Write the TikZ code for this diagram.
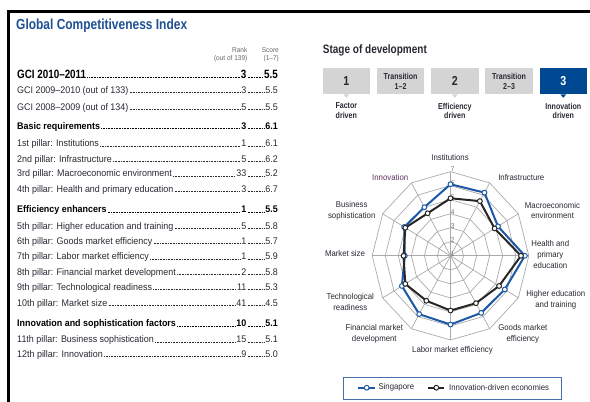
\documentclass[tikz,border=0pt]{standalone}
\usepackage{fontspec}
\setmainfont[FakeStretch=0.93]{Liberation Sans}
\newfontfamily\narrowfont[FakeStretch=0.82]{Liberation Sans}
\usetikzlibrary{positioning}

\definecolor{titleblue}{RGB}{31,80,148}
\definecolor{stageblue}{RGB}{0,72,145}
\definecolor{boxgray}{RGB}{212,212,212}
\definecolor{rowgray}{RGB}{40,40,50}
\definecolor{gridgray}{RGB}{170,170,170}
\definecolor{sgblue}{RGB}{28,88,165}
\definecolor{legendblue}{RGB}{70,110,170}
\definecolor{innopurple}{RGB}{95,50,95}

\tikzset{
  rowtxt/.style={font=\fontsize{9.6}{11}\selectfont, text=rowgray, inner sep=1pt},
  rowbold/.style={font=\fontsize{9.6}{11}\selectfont\bfseries, text=black, inner sep=1pt},
  rowbig/.style={font=\narrowfont\fontsize{12}{14}\selectfont\bfseries, text=black, inner sep=1pt},
  leader/.style={rowgray, line width=0.75pt, dash pattern=on 0.55pt off 1.05pt},
  boldleader/.style={black, line width=0.9pt, dash pattern=on 0.6pt off 1.0pt},
  headtxt/.style={font=\fontsize{7}{8}\selectfont, text=black!60, align=right, anchor=east, inner sep=0pt},
  stagebox/.style={fill=boxgray, minimum width=47.5pt, minimum height=25.7pt, inner sep=0pt, align=center, text=rowgray},
  stagelbl/.style={font=\narrowfont\fontsize{8.6}{9.3}\selectfont\bfseries, text=rowgray, align=center, inner sep=0pt},
  radarlbl/.style={font=\fontsize{8.4}{10.8}\selectfont, text=rowgray, align=center, inner sep=0pt},
  radargrid/.style={draw=gridgray, line width=0.7pt},
  ticklbl/.style={font=\fontsize{7}{7}\selectfont, text=black!55, inner sep=0pt},
  sgline/.style={draw=sgblue, line width=2pt, line join=round},
  idline/.style={draw=black!85, line width=2pt, line join=round},
  sgdot/.style={circle, draw=sgblue, fill=white, line width=1pt, minimum size=4.8pt, inner sep=0pt},
  iddot/.style={circle, draw=black!85, fill=white, line width=1pt, minimum size=4.8pt, inner sep=0pt},
}

\begin{document}
\begin{tikzpicture}[x=1pt, y=-1pt]
    \useasboundingbox (0,0) rectangle (590,402);

    % Frame round the profile
    \draw[line width=2.6pt] (8.3,402) -- (8.3,11.7) -- (590,11.7);

    % Title
    \node[anchor=base west, inner sep=0pt, text=titleblue, font=\narrowfont\fontsize{14.6}{16}\selectfont\bfseries] (title) at (16,29) {Global Competitiveness Index};

    % Column heads
    \def\rankx{247.5}  % right edge of the rank column
    \def\scorex{279}   % right edge of the score column
    \node[headtxt] (rankhead) at (\rankx,54.7) {Rank\\(out of 139)};
    \node[headtxt] (scorehead) at (\scorex,54.7) {Score\\(1–7)};

    % One table row: name, baseline, text style, label, rank, score, leader style
    \def\gcirow#1#2#3#4#5#6#7{%
        \node[#3, anchor=base west] (#1l) at (16,#2) {#4};
        \node[#3, anchor=base east] (#1r) at (\rankx,#2) {#5};
        \node[#3, anchor=base east] (#1s) at (\scorex,#2) {#6};
        \draw[#7] ([yshift=0.6pt]#1l.base east) -- ([yshift=0.6pt]#1r.base west);
        \draw[#7] ([yshift=0.6pt]#1r.base east) -- ([yshift=0.6pt]#1s.base west);
    }

    % Overall index
    \gcirow{gci}{78.5}{rowbig}{GCI 2010–2011}{3}{5.5}{boldleader}
    \gcirow{gcia}{93.3}{rowtxt}{GCI 2009–2010 (out of 133)}{3}{5.5}{leader}
    \gcirow{gcib}{110}{rowtxt}{GCI 2008–2009 (out of 134)}{5}{5.5}{leader}

    % Basic requirements
    \gcirow{basic}{129.3}{rowbold}{Basic requirements}{3}{6.1}{boldleader}
    \gcirow{pa}{146.6}{rowtxt}{1st pillar: Institutions}{1}{6.1}{leader}
    \gcirow{pb}{162}{rowtxt}{2nd pillar: Infrastructure}{5}{6.2}{leader}
    \gcirow{pc}{176.8}{rowtxt}{3rd pillar: Macroeconomic environment}{33}{5.2}{leader}
    \gcirow{pd}{192}{rowtxt}{4th pillar: Health and primary education}{3}{6.7}{leader}

    % Efficiency enhancers
    \gcirow{eff}{212.6}{rowbold}{Efficiency enhancers}{1}{5.5}{boldleader}
    \gcirow{pe}{229}{rowtxt}{5th pillar: Higher education and training}{5}{5.8}{leader}
    \gcirow{pf}{244.3}{rowtxt}{6th pillar: Goods market efficiency}{1}{5.7}{leader}
    \gcirow{pg}{259.8}{rowtxt}{7th pillar: Labor market efficiency}{1}{5.9}{leader}
    \gcirow{ph}{275.3}{rowtxt}{8th pillar: Financial market development}{2}{5.8}{leader}
    \gcirow{pi}{290}{rowtxt}{9th pillar: Technological readiness}{11}{5.3}{leader}
    \gcirow{pj}{306}{rowtxt}{10th pillar: Market size}{41}{4.5}{leader}

    % Innovation and sophistication factors
    \gcirow{inno}{326.6}{rowbold}{Innovation and sophistication factors}{10}{5.1}{boldleader}
    \gcirow{pk}{342.6}{rowtxt}{11th pillar: Business sophistication}{15}{5.1}{leader}
    \gcirow{pl}{357.3}{rowtxt}{12th pillar: Innovation}{9}{5.0}{leader}

    % Stage of development
    \node[anchor=base west, inner sep=0pt, text=rowgray, font=\narrowfont\fontsize{12.2}{14}\selectfont\bfseries] (stage) at (322.7,53.5) {Stage of development};

    \node[stagebox, font=\narrowfont\fontsize{13}{14}\selectfont\bfseries] (b1) at (346.3,81.2) {1};
    \node[stagebox, right=6.35pt of b1, font=\narrowfont\fontsize{8.6}{10.3}\selectfont\bfseries] (b2) {Transition\\1–2};
    \node[stagebox, right=6.35pt of b2, font=\narrowfont\fontsize{13}{14}\selectfont\bfseries] (b3) {2};
    \node[stagebox, right=6.35pt of b3, font=\narrowfont\fontsize{8.6}{10.3}\selectfont\bfseries] (b4) {Transition\\2–3};
    \node[stagebox, right=6.35pt of b4, fill=stageblue, text=white, font=\narrowfont\fontsize{13}{14}\selectfont\bfseries] (b5) {3};

    % Pointers under the three stages
    \fill[boxgray] ([xshift=-3pt]b1.south) -- ([xshift=3pt]b1.south) -- ([yshift=-3.5pt]b1.south) -- cycle;
    \fill[boxgray] ([xshift=-3pt]b3.south) -- ([xshift=3pt]b3.south) -- ([yshift=-3.5pt]b3.south) -- cycle;
    \fill[stageblue] ([xshift=-3pt]b5.south) -- ([xshift=3pt]b5.south) -- ([yshift=-3.5pt]b5.south) -- cycle;

    \node[stagelbl, below=8.5pt of b1] (l1) {Factor\\driven};
    \node[stagelbl, below=8.5pt of b3] (l3) {Efficiency\\driven};
    \node[stagelbl, below=8.5pt of b5] (l5) {Innovation\\driven};

    % Radar of the twelve pillars (centre is score 1)
    \begin{scope}[shift={(450.5,255.8)}, x=13.05pt, y=14.03pt]
        \coordinate (ctr) at (0,0);

        % rings 2 to 7
        \foreach \r in {1,...,6}
            \draw[radargrid] (90:\r) \foreach \a in {60,30,...,-240}{ -- (\a:\r)} -- cycle;

        % spokes
        \foreach \i in {0,...,11} {
            \coordinate (ax\i) at ({90-30*\i}:6);
            \draw[radargrid] (ctr) -- (ax\i);
        }

        % scale
        \foreach \v in {1,...,7}
            \node[ticklbl] (tk\v) at (0.16,{\v-0.85}) {\v};

        % Singapore
        \foreach \v [count=\i from 0] in {6.1,6.2,5.2,6.7,5.8,5.7,5.9,5.8,5.3,4.5,5.1,5.0}
            \coordinate (sg\i) at ({90-30*\i}:{\v-1});
        \draw[sgline] (sg0) -- (sg1) -- (sg2) -- (sg3) -- (sg4) -- (sg5) -- (sg6) -- (sg7) -- (sg8) -- (sg9) -- (sg10) -- (sg11) -- cycle;
        \foreach \i in {0,...,11}
            \node[sgdot] (sgm\i) at (sg\i) {};

        % Innovation-driven economies
        \foreach \v [count=\i from 0] in {5.1,5.5,4.9,6.4,5.3,4.9,4.9,4.7,5.0,4.6,5.0,4.5}
            \coordinate (id\i) at ({90-30*\i}:{\v-1});
        \draw[idline] (id0) -- (id1) -- (id2) -- (id3) -- (id4) -- (id5) -- (id6) -- (id7) -- (id8) -- (id9) -- (id10) -- (id11) -- cycle;
        \foreach \i in {0,...,11}
            \node[iddot] (idm\i) at (id\i) {};
    \end{scope}

    % Pillar labels
    \node[radarlbl] (lInst) at (450,157.3) {Institutions};
    \node[radarlbl] (lInfra) at (521.3,177.7) {Infrastructure};
    \node[radarlbl] (lMacro) at (552.5,210.5) {Macroeconomic\\environment};
    \node[radarlbl] (lHealth) at (550.3,254.5) {Health and\\primary\\education};
    \node[radarlbl] (lHigher) at (555.8,300) {Higher education\\and training};
    \node[radarlbl] (lGoods) at (522.8,333.8) {Goods market\\efficiency};
    \node[radarlbl] (lLabor) at (452.5,350.7) {Labor market efficiency};
    \node[radarlbl] (lFin) at (374.3,334.2) {Financial market\\development};
    \node[radarlbl] (lTech) at (350.3,302) {Technological\\readiness};
    \node[radarlbl] (lSize) at (345,253.3) {Market size};
    \node[radarlbl] (lBus) at (351.7,210.5) {Business\\sophistication};
    \node[radarlbl, text=innopurple] (lInno) at (390.2,177.7) {Innovation};

    % Legend
    \node[draw=legendblue, line width=1pt, minimum width=218.4pt, minimum height=22pt, inner sep=0pt] (legend) at (452.5,388.3) {};
    \coordinate (sgA) at (358.3,387.7);
    \coordinate (sgB) at (375,387.7);
    \draw[sgline] (sgA) -- (sgB);
    \node[sgdot] (sgkey) at (366.7,387.7) {};
    \node[radarlbl, anchor=west] (sgname) at (378.3,387.7) {Singapore};
    \coordinate (idA) at (428.3,387.7);
    \coordinate (idB) at (444.3,387.7);
    \draw[idline] (idA) -- (idB);
    \node[iddot] (idkey) at (436.3,387.7) {};
    \node[radarlbl, anchor=west] (idname) at (449,387.7) {Innovation-driven economies};
\end{tikzpicture}
\end{document}
